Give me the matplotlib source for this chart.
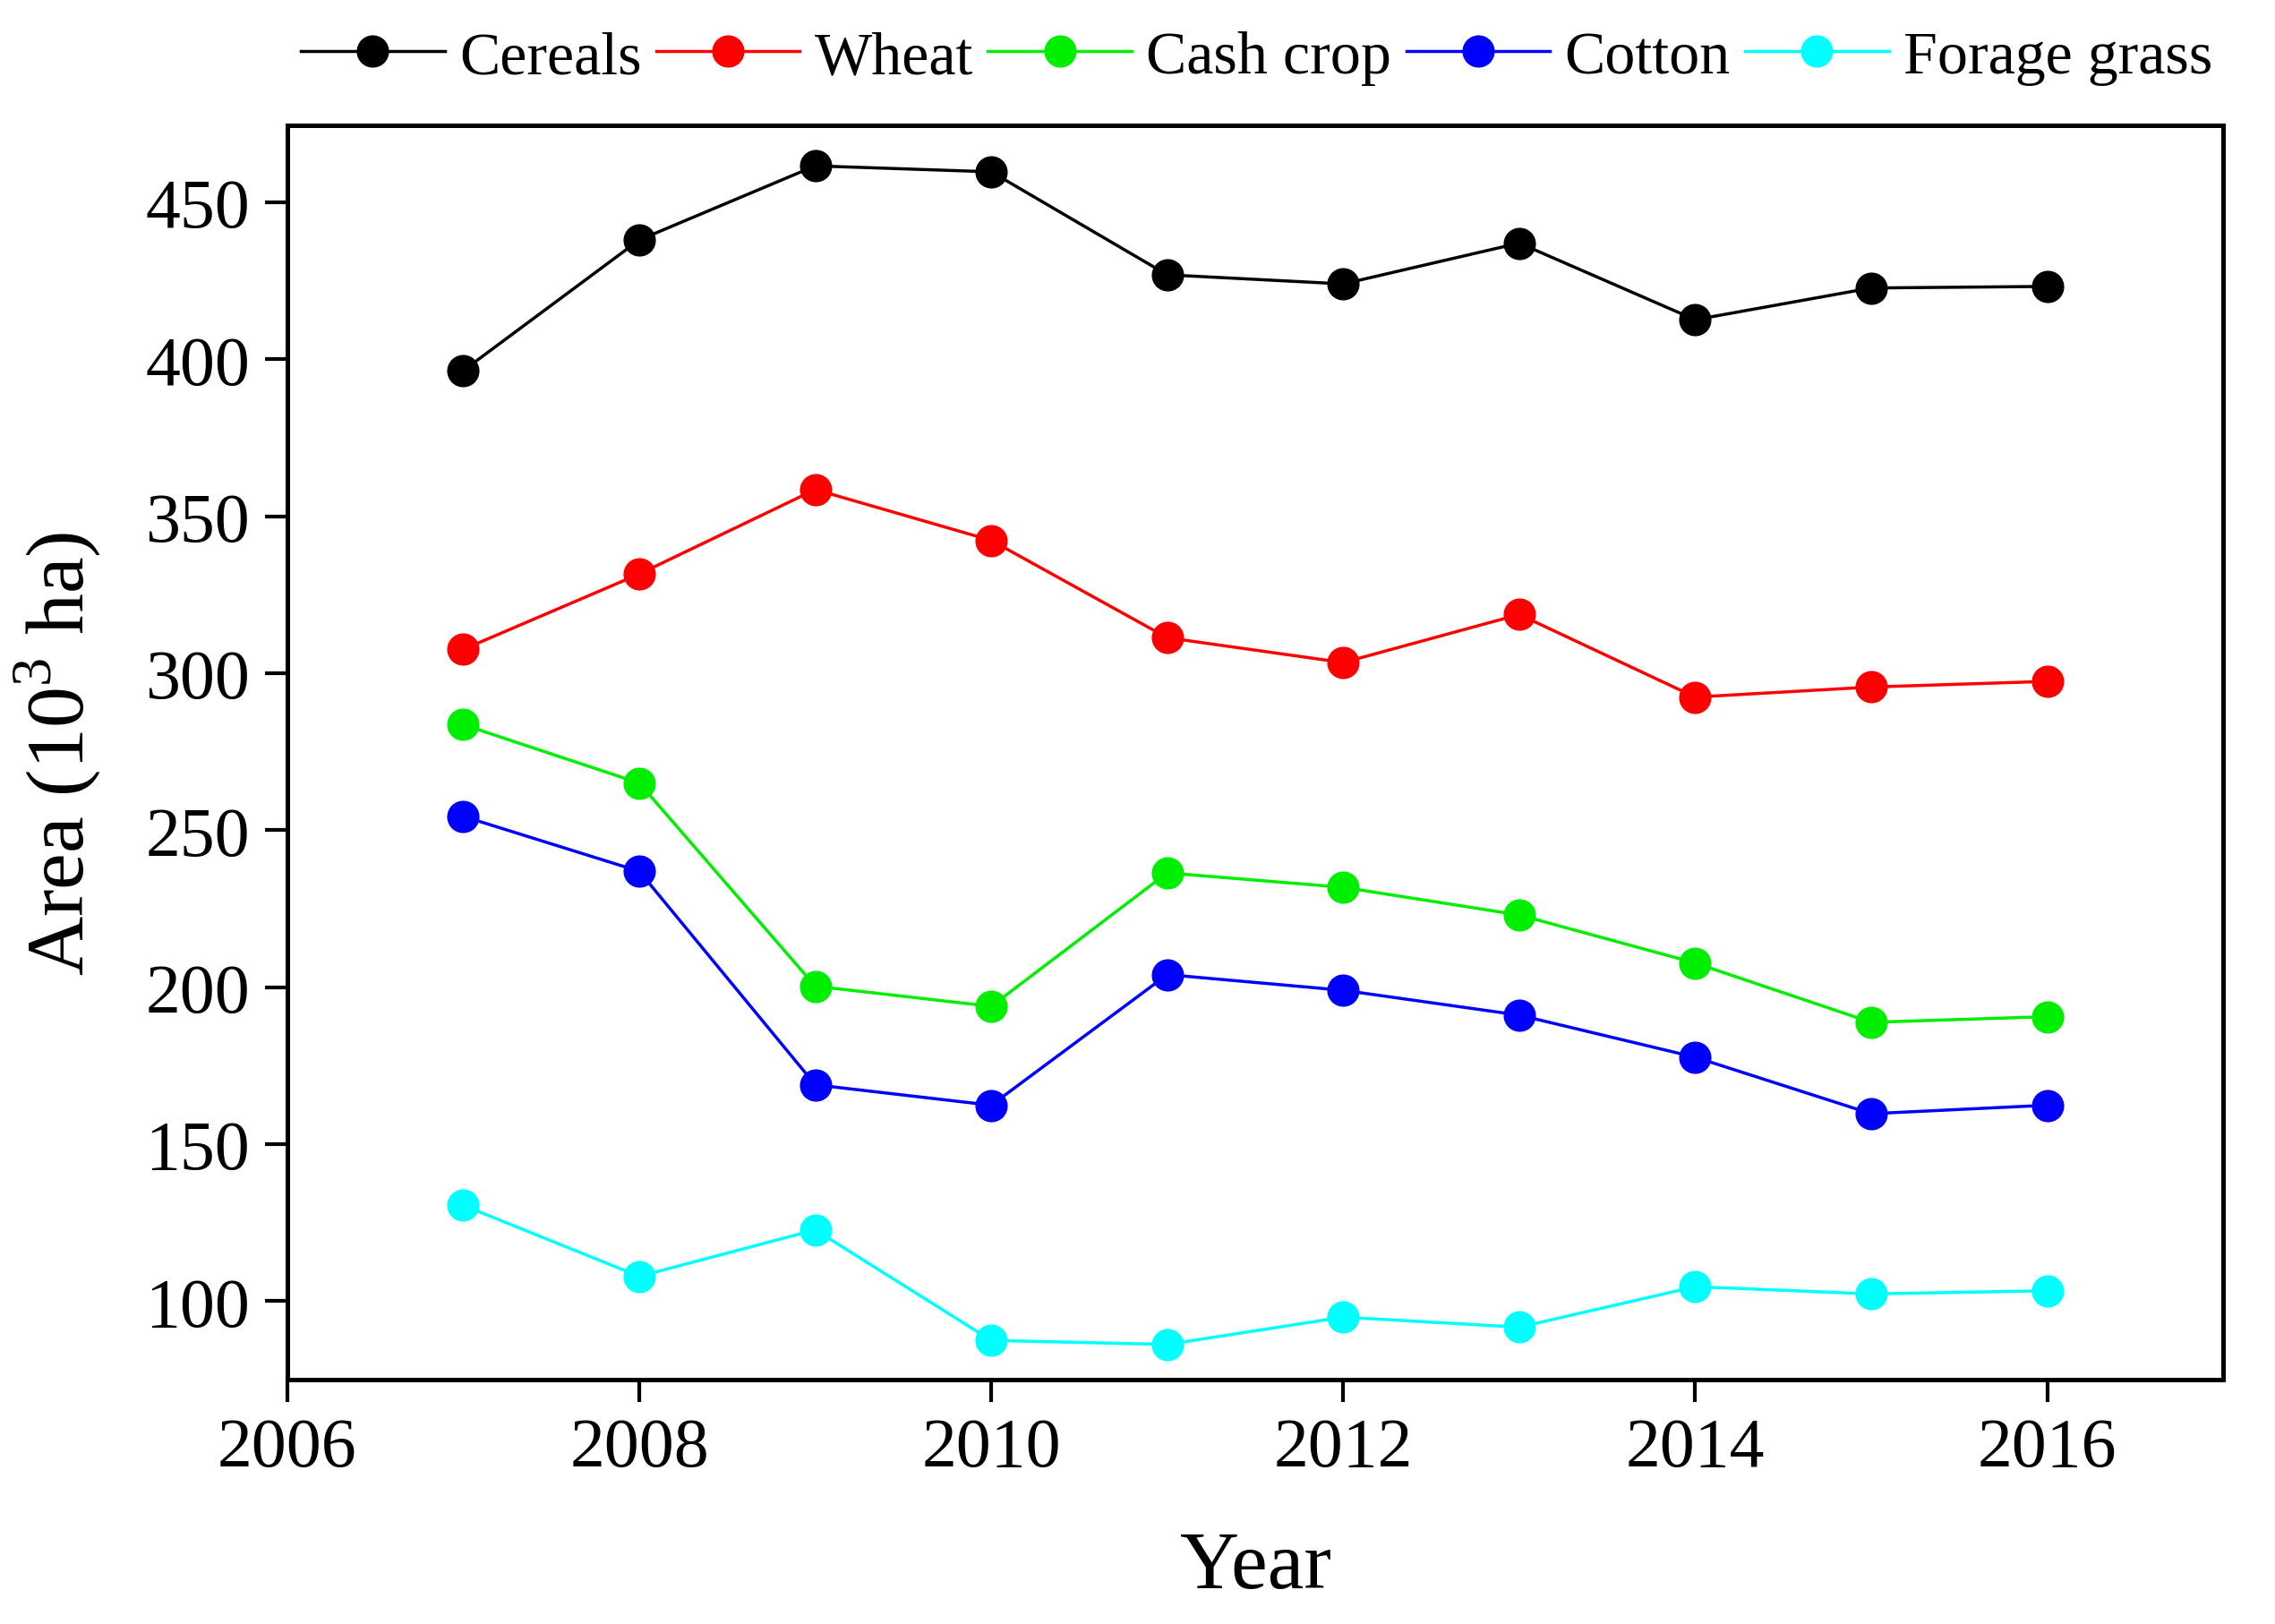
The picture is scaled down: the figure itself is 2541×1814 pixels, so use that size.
import matplotlib
matplotlib.use('Agg')
import matplotlib.pyplot as plt

# crop area by year, 10^3 ha
years = [2007, 2008, 2009, 2010, 2011, 2012, 2013, 2014, 2015, 2016]
cereals = [396.4, 438.0, 461.6, 459.7, 426.9, 424.0, 437.0, 412.6, 422.7, 423.2]
wheat = [307.6, 331.6, 358.5, 342.3, 311.3, 303.4, 318.7, 292.4, 295.6, 297.4]
cash_crop = [283.6, 265.0, 200.3, 193.9, 236.4, 231.8, 223.0, 207.7, 188.8, 190.6]
cotton = [254.4, 236.9, 168.9, 162.4, 204.0, 199.0, 191.1, 177.7, 159.7, 162.4]
forage = [130.5, 107.9, 122.7, 87.5, 86.2, 94.9, 91.7, 104.6, 102.3, 103.3]

names = ['Cereals', 'Wheat', 'Cash crop', 'Cotton', 'Forage grass']
colors = ['#000000', '#ff0000', '#00ee00', '#0000ff', '#00ffff']
xticks = [2006, 2008, 2010, 2012, 2014, 2016]
yticks = [100, 150, 200, 250, 300, 350, 400, 450]

plt.rcParams['font.family'] = ['Liberation Serif', 'DejaVu Serif']
plt.rcParams['mathtext.fontset'] = 'custom'
plt.rcParams['mathtext.rm'] = 'Liberation Serif'

fig = plt.figure(figsize=(25.41, 18.15), dpi=100)
ax = fig.add_axes([0.1263, 0.1504, 0.8509, 0.7719])

series = [cereals, wheat, cash_crop, cotton, forage]
for vals, name, c in zip(series, names, colors):
    ax.plot(years, vals, '-o', color=c, label=name, linewidth=2.5,
            markersize=25)

ax.set_xlim(2006, 2017)
ax.set_ylim(75, 474.5)
ax.set_xticks(xticks)
ax.set_yticks(yticks)
ax.tick_params(direction='out', length=18, width=3, labelsize=56, pad=12)
for s in ax.spines.values():
    s.set_linewidth(3.6)

ax.set_xlabel('Year', fontsize=66, labelpad=40)
ax.set_ylabel('Area (10$^3$ ha)', fontsize=66, labelpad=34)

fig.legend(loc='center', bbox_to_anchor=(0.5524, 0.964), ncol=5, frameon=False,
           fontsize=49, handlelength=2.36, handletextpad=0.24, columnspacing=0.24,
           borderaxespad=0)

fig.savefig('out.png', dpi=100)
